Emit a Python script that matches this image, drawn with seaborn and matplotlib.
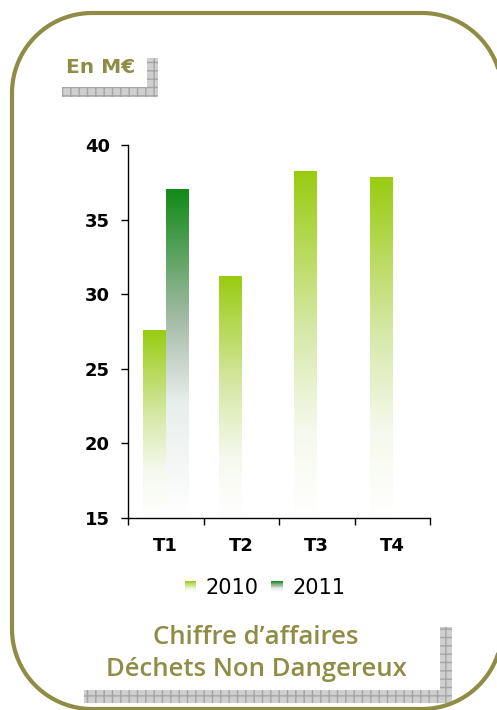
import numpy as np
import pandas as pd
import matplotlib
matplotlib.use("Agg")
import matplotlib.pyplot as plt
import seaborn as sns
from matplotlib.patches import Rectangle, Patch
from matplotlib.colors import LinearSegmentedColormap, to_rgba
from matplotlib.legend_handler import HandlerBase

# data (M€)
quarters = ["T1", "T2", "T3", "T4"]
ca_2010 = [27.6, 31.2, 38.2, 37.8]
ca_2011 = [37.0, None, None, None]
years = ["2010", "2011"]

olive = "#8f8c45"
col_2010 = "#99cc11"
col_2011 = "#128a18"

rows = []
for q, v in zip(quarters, ca_2010):
    rows.append({"trimestre": q, "annee": "2010", "ca": v})
for q, v in zip(quarters, ca_2011):
    if v is not None:
        rows.append({"trimestre": q, "annee": "2011", "ca": v})
df = pd.DataFrame(rows)

# gradients (bottom -> top)
cmap_2010 = LinearSegmentedColormap.from_list(
    "g2010", [(0, "#ffffff"), (0.25, "#f6f9ee"), (0.55, "#d6e8a6"), (1, col_2010)])
cmap_2011 = LinearSegmentedColormap.from_list(
    "g2011", [(0, "#ffffff"), (0.35, "#e8eeec"), (0.6, "#a6bca8"), (1, col_2011)])
cmaps = {"2010": cmap_2010, "2011": cmap_2011}

sns.set_theme(style="white")
plt.rcParams["font.family"] = ["DejaVu Sans"]
plt.rcParams["text.color"] = "black"
plt.rcParams["xtick.color"] = "black"
plt.rcParams["ytick.color"] = "black"

fig = plt.figure(figsize=(4.97, 7.10), dpi=100)

# decorations in pixel coordinates
deco = fig.add_axes([0, 0, 1, 1], zorder=0)
deco.set_xlim(0, 497)
deco.set_ylim(710, 0)
deco.axis("off")


def rounded_frame(x0, y0, x1, y1, r):
    t = np.linspace(0, np.pi / 2, 30)
    xs, ys = [], []
    # top-left, top-right, bottom-right, bottom-left corners (y downwards)
    for cx, cy, a0 in [(x0 + r, y0 + r, np.pi), (x1 - r, y0 + r, 1.5 * np.pi),
                       (x1 - r, y1 - r, 0), (x0 + r, y1 - r, 0.5 * np.pi)]:
        xs.extend(cx + r * np.cos(a0 + t))
        ys.extend(cy + r * np.sin(a0 + t))
    xs.append(xs[0])
    ys.append(ys[0])
    return xs, ys


fx, fy = rounded_frame(12, 13, 502, 709, 80)
deco.plot(fx, fy, color=olive, lw=3, clip_on=False, solid_joinstyle="round")
for (x, y, w, h) in [(62, 87, 96, 10), (147, 58, 11, 39), (84, 690, 368, 13), (440, 627, 12, 76)]:
    deco.add_patch(Rectangle((x, y), w, h, facecolor="#cfcfcf", edgecolor="#a4a4a4",
                             hatch="++", lw=0))
deco.text(66, 73, "En M€", color=olive, fontsize=14.5, fontweight="bold", ha="left", va="baseline")

ax = fig.add_axes([128 / 497, 1 - 518 / 710, (430 - 128) / 497, (518 - 145) / 710], zorder=2)
ax.set_facecolor("none")
sns.barplot(data=df, x="trimestre", y="ca", hue="annee", order=quarters, hue_order=years,
            palette={"2010": col_2010, "2011": col_2011}, width=0.6, saturation=1,
            legend=False, ax=ax, errorbar=None)

# replace flat fill with vertical gradients
ymin = 15
for bar in list(ax.patches):
    fc = bar.get_facecolor()
    year = "2010" if np.allclose(fc, to_rgba(col_2010)) else "2011"
    x0 = bar.get_x()
    x1 = x0 + bar.get_width()
    top = bar.get_y() + bar.get_height()
    grad = np.linspace(0, 1, 256)[:, None]
    img = cmaps[year](grad)
    ax.imshow(img, extent=[x0, x1, ymin, top], origin="lower", aspect="auto", zorder=2)
    bar.set_facecolor("none")
    bar.set_edgecolor("none")

ax.set_xlim(-0.5, 3.5)
ax.set_ylim(15, 40)
ax.set_yticks([15, 20, 25, 30, 35, 40])
ax.set_xlabel("")
ax.set_ylabel("")
for s in ["top", "right"]:
    ax.spines[s].set_visible(False)
for s in ["left", "bottom"]:
    ax.spines[s].set_color("black")
    ax.spines[s].set_linewidth(1)
ax.set_xticks([-0.5, 0.5, 1.5, 2.5, 3.5], minor=True)
ax.tick_params(axis="x", which="major", length=0, pad=14, labelsize=13, labelcolor="black")
ax.tick_params(axis="x", which="minor", length=5, width=1, color="black", direction="out")
ax.tick_params(axis="y", length=5, width=1, color="black", direction="out", labelsize=13, pad=8,
               labelcolor="black")
ax.tick_params(left=True, bottom=True, which="both")
for lab in ax.get_xticklabels() + ax.get_yticklabels():
    lab.set_fontweight("bold")
ax.grid(False)


class GradHandler(HandlerBase):
    def __init__(self, cmap):
        super().__init__()
        self.cmap = cmap

    def create_artists(self, legend, orig_handle, xdescent, ydescent, width, height, fontsize, trans):
        s = min(width, height)
        x0 = -xdescent + (width - s) / 2
        y0 = -ydescent + (height - s) / 2
        n = 20
        arts = []
        for i in range(n):
            r = Rectangle((x0, y0 + s * i / n), s, s / n + 0.3, facecolor=self.cmap((i + 0.5) / n),
                          edgecolor="none", transform=trans)
            arts.append(r)
        return arts


h1 = Patch(label="2010")
h2 = Patch(label="2011")
fig.legend(handles=[h1, h2], loc="center", bbox_to_anchor=(265 / 497, 1 - 588 / 710), ncol=2,
           frameon=False, fontsize=15, handlelength=0.55, handleheight=0.7, handletextpad=0.45,
           columnspacing=0.6,
           handler_map={h1: GradHandler(cmap_2010), h2: GradHandler(cmap_2011)})

fig.text(256 / 497, 1 - 637 / 710, "Chiffre d\u2019affaires", color=olive, fontsize=18.5,
         fontweight="semibold", ha="center", va="center", family=["Open Sans", "DejaVu Sans"])
fig.text(256 / 497, 1 - 669 / 710, "Déchets Non Dangereux", color=olive, fontsize=18.5,
         fontweight="semibold", ha="center", va="center", family=["Open Sans", "DejaVu Sans"])

fig.savefig("out.png", dpi=100, facecolor="white")
